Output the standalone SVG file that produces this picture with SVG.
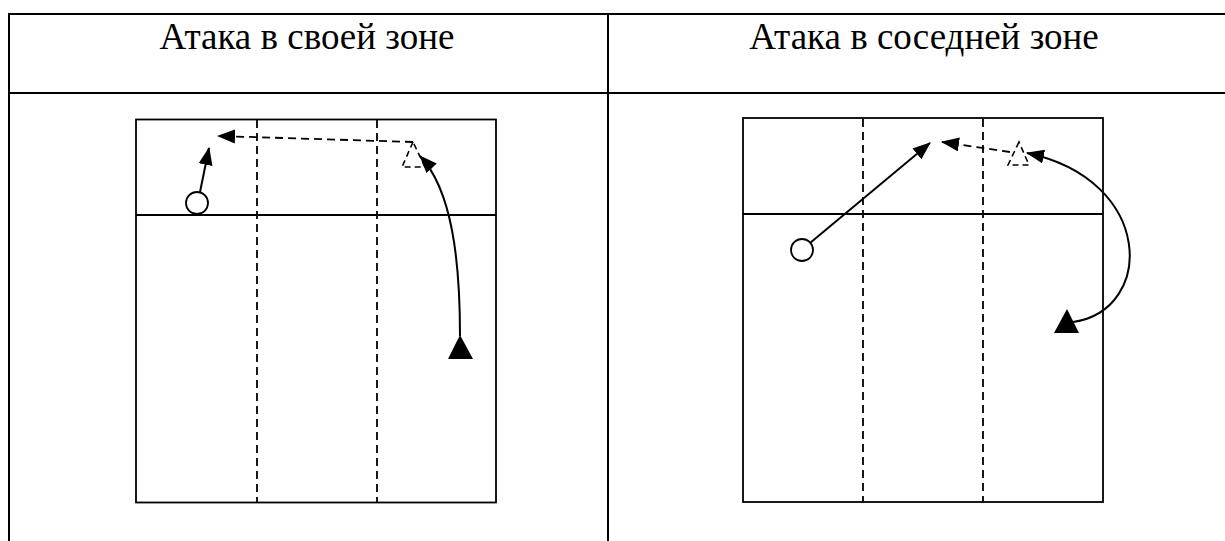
<svg xmlns="http://www.w3.org/2000/svg" width="1225" height="541" viewBox="0 0 1225 541">
<style>
.tb{stroke:#000;stroke-width:2;fill:none}
.court{stroke:#000;stroke-width:1.8;fill:none}
.dash{stroke:#000;stroke-width:1.8;fill:none;stroke-dasharray:8 5}
.arr{stroke:#000;stroke-width:2;fill:none}
.t{font-family:"Liberation Serif","Times New Roman",serif;font-size:37px;fill:#000;text-anchor:middle}
</style>
<defs>
<marker id="ah" viewBox="0 0 18 14" refX="17" refY="7" markerWidth="18" markerHeight="14" markerUnits="userSpaceOnUse" orient="auto">
<path d="M0,0 L18,7 L0,14 z" fill="#000"/>
</marker>
</defs>
<g id="table">
<line class="tb" x1="8" y1="14" x2="1225" y2="14"/>
<line class="tb" x1="9" y1="13" x2="9" y2="541"/>
<line class="tb" x1="608" y1="13" x2="608" y2="541"/>
<line class="tb" x1="8" y1="93" x2="1225" y2="93"/>
<text class="t" x="307" y="49">Атака в своей зоне</text>
<text class="t" x="924" y="49">Атака в соседней зоне</text>
</g>
<g id="court-left">
<rect class="court" x="136" y="119.5" width="360" height="383"/>
<line class="court" x1="136" y1="215" x2="496" y2="215"/>
<line class="dash" x1="257" y1="120" x2="257" y2="502"/>
<line class="dash" x1="377" y1="120" x2="377" y2="502"/>
</g>
<g id="player-left">
<circle cx="197" cy="203" r="11" fill="#fff" stroke="#000" stroke-width="1.8"/>
</g>
<g id="setter-left-start">
<polygon points="460,335 448,359 473,359" fill="#000"/>
</g>
<g id="setter-left-end">
<polygon points="413,142 402,167 425,167" fill="none" stroke="#000" stroke-width="1.6" stroke-dasharray="6 4"/>
</g>
<g id="court-right">
<rect class="court" x="743" y="118" width="360" height="384"/>
<line class="court" x1="743" y1="214" x2="1103" y2="214"/>
<line class="dash" x1="863" y1="119" x2="863" y2="502"/>
<line class="dash" x1="983" y1="119" x2="983" y2="502"/>
</g>
<g id="player-right">
<circle cx="802" cy="250" r="11" fill="#fff" stroke="#000" stroke-width="1.8"/>
</g>
<g id="setter-right-start">
<polygon points="1067,309 1054,333 1079,333" fill="#000"/>
</g>
<g id="setter-right-end">
<polygon points="1019,142 1008,165 1029,165" fill="none" stroke="#000" stroke-width="1.6" stroke-dasharray="6 4"/>
</g>
<g id="connectors">
<line class="arr" x1="200" y1="192" x2="209" y2="148" marker-end="url(#ah)"/>
<path class="dash" d="M413,142 L218,136" marker-end="url(#ah)"/>
<path class="arr" d="M460,336 C460,260 452,190 420,156" marker-end="url(#ah)"/>
<line class="arr" x1="810" y1="243" x2="930" y2="143" marker-end="url(#ah)"/>
<path class="dash" d="M1010,152 L942,142" marker-end="url(#ah)"/>
<path class="arr" d="M1073,322 C1155,310 1155,180 1027,153" marker-end="url(#ah)"/>
</g>
</svg>
